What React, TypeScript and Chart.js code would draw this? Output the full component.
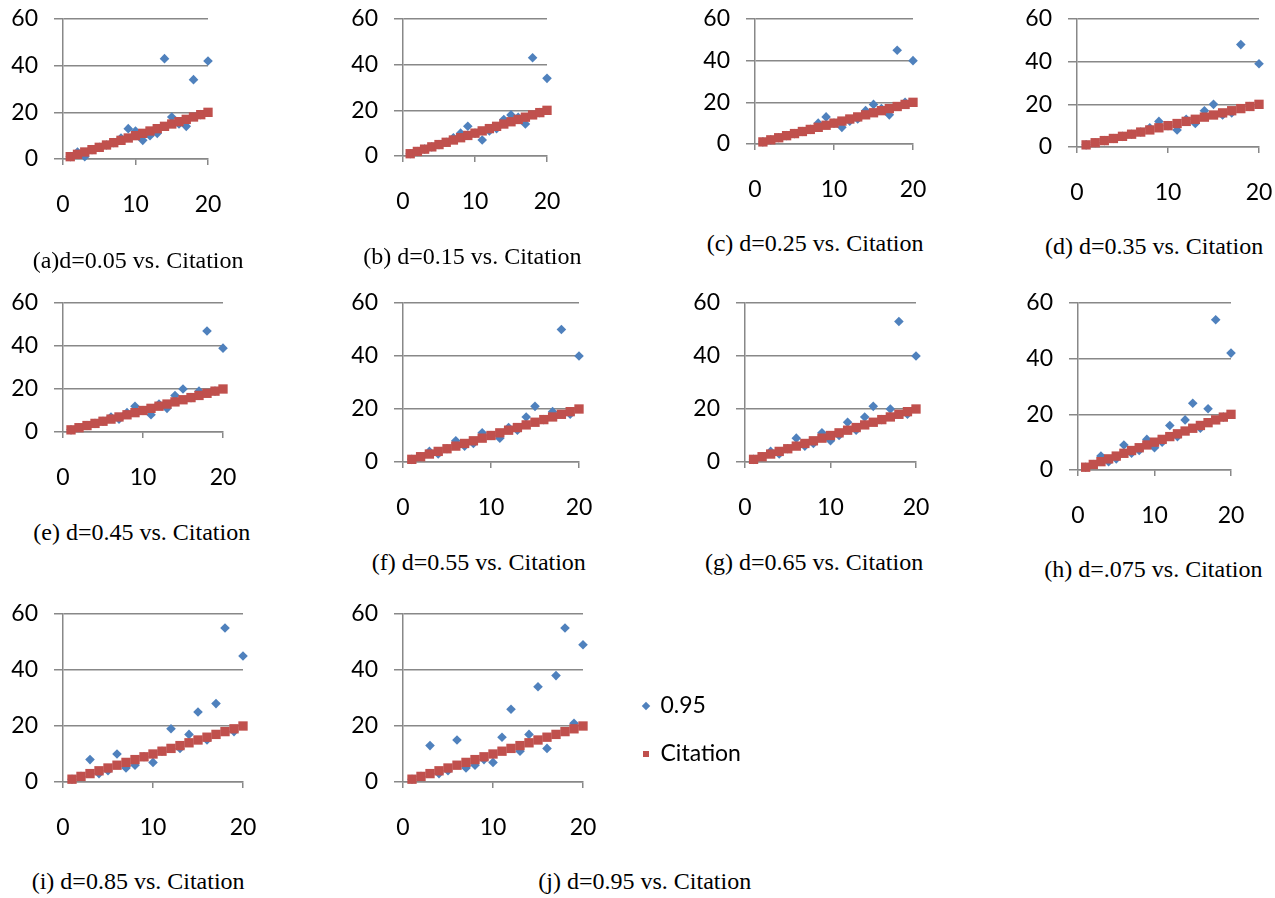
import React, { useEffect, useRef } from "react";
import { Chart, registerables } from "chart.js";

Chart.register(...registerables);

// ---------- data ----------
const xValues = [1, 2, 3, 4, 5, 6, 7, 8, 9, 10, 11, 12, 13, 14, 15, 16, 17, 18, 19, 20];
const citation = [1, 2, 3, 4, 5, 6, 7, 8, 9, 10, 11, 12, 13, 14, 15, 16, 17, 18, 19, 20];

const d005 = [1, 3, 1, 4, 5, 6, 7, 9, 13, 12, 8, 10, 11, 43, 18, 15, 14, 34, 19, 42];
const d015 = [1, 2, 3, 4, 5, 6, 8, 10, 13, 10, 7, 11, 12, 16, 18, 17, 14, 43, 19, 34];
const d025 = [1, 2, 3, 4, 5, 6, 7, 10, 13, 10, 8, 11, 12, 16, 19, 17, 14, 45, 20, 40];
const d035 = [1, 2, 3, 4, 5, 6, 7, 9, 12, 10, 8, 13, 11, 17, 20, 15, 16, 48, 19, 39];
const d045 = [1, 2, 3, 4, 5, 7, 6, 9, 12, 10, 8, 13, 11, 17, 20, 16, 19, 47, 19, 39];
const d055 = [1, 2, 4, 3, 5, 8, 6, 7, 11, 10, 9, 13, 12, 17, 21, 16, 19, 50, 18, 40];
const d065 = [1, 2, 4, 3, 5, 9, 6, 7, 11, 8, 10, 15, 12, 17, 21, 16, 20, 53, 18, 40];
const d075 = [1, 2, 5, 3, 4, 9, 6, 7, 11, 8, 10, 16, 12, 18, 24, 15, 22, 54, 19, 42];
const d085 = [1, 2, 8, 3, 4, 10, 5, 6, 9, 7, 11, 19, 12, 17, 25, 15, 28, 55, 18, 45];
const d095 = [1, 2, 13, 3, 4, 15, 5, 6, 8, 7, 16, 26, 11, 17, 34, 12, 38, 55, 21, 49];

const seriesValues = [d005, d015, d025, d035, d045, d055, d065, d075, d085, d095];
const seriesLabels = ["0.05", "0.15", "0.25", "0.35", "0.45", "0.55", "0.65", ".075", "0.85", "0.95"];
const citationLabel = "Citation";
const captions = [
  "(a)d=0.05 vs. Citation",
  "(b) d=0.15 vs. Citation",
  "(c) d=0.25 vs. Citation",
  "(d) d=0.35 vs. Citation",
  "(e) d=0.45 vs. Citation",
  "(f) d=0.55 vs. Citation",
  "(g) d=0.65 vs. Citation",
  "(h) d=.075 vs. Citation",
  "(i) d=0.85 vs. Citation",
  "(j) d=0.95 vs. Citation",
];
const xMin = 0;
const xMax = 20;
const xStep = 10;
const yMin = 0;
const yMax = 60;
const yStep = 20;

// ---------- layout (plot area left/top/width/height, caption left/baseline) ----------
const plotBoxes = [
  [63, 19, 145, 140],
  [403, 19, 144, 137],
  [755, 19, 158, 125],
  [1077, 19, 182, 128],
  [63, 303, 160, 129],
  [403, 303, 176, 159],
  [745, 303, 171, 159],
  [1078, 303, 153, 167],
  [63, 614, 180, 168],
  [403, 614, 180, 168],
];
const captionPos = [
  [32.7, 268.3],
  [363.3, 264],
  [706.7, 250.7],
  [1045, 254],
  [33.3, 540],
  [371.7, 570],
  [705, 570],
  [1044.3, 577.3],
  [31.7, 889.3],
  [538.3, 889.3],
];

const Y_AXIS_W = 62;
const PAD_TOP = 32;
const X_AXIS_H = 64;
const PAD_RIGHT = 42;
const LEGEND_GAP = 35;
const LEGEND_W = 132;

const BLUE = "#4F81BD";
const RED = "#C0504D";
const GRID = "#888888";
const TICK_FONT = { family: "Lato, 'Noto Sans', sans-serif", size: 23 };

function Panel({ index }: { index: number }) {
  const ref = useRef<HTMLCanvasElement | null>(null);
  const [left, top, pw, ph] = plotBoxes[index];
  const withLegend = index === 9;
  const canvasW = Y_AXIS_W + pw + (withLegend ? LEGEND_GAP + LEGEND_W : 0) + PAD_RIGHT;
  const canvasH = PAD_TOP + ph + X_AXIS_H;

  useEffect(() => {
    if (!ref.current) return;
    const blue = seriesValues[index].map((v, i) => ({ x: xValues[i], y: v }));
    const red = citation.map((v, i) => ({ x: xValues[i], y: v }));
    const scales: any = {
      x: {
        type: "linear",
        min: xMin,
        max: xMax,
        afterFit: (s: any) => {
          s.height = X_AXIS_H;
        },
        ticks: { stepSize: xStep, padding: 26, font: TICK_FONT, color: "#000" },
        grid: { drawOnChartArea: false, drawTicks: true, tickLength: 6, color: GRID, lineWidth: 1.5 },
        border: { display: true, color: GRID, width: 1.5 },
      },
      y: {
        type: "linear",
        min: yMin,
        max: yMax,
        afterFit: (s: any) => {
          s.width = Y_AXIS_W;
        },
        ticks: { stepSize: yStep, padding: 16, font: TICK_FONT, color: "#000" },
        grid: { color: GRID, lineWidth: 1.5, tickLength: 9 },
        border: { display: true, color: GRID, width: 1.5 },
      },
    };
    if (withLegend) {
      scales.gap = {
        type: "linear",
        position: "right",
        display: true,
        grid: { display: false },
        border: { display: false },
        ticks: { display: false },
        afterFit: (s: any) => {
          s.width = LEGEND_GAP;
        },
      };
    }
    const chart = new Chart(ref.current, {
      type: "scatter",
      data: {
        datasets: [
          {
            label: seriesLabels[index],
            data: blue,
            pointStyle: "rectRot",
            pointRadius: 4.8,
            pointHoverRadius: 4.8,
            backgroundColor: BLUE,
            borderColor: BLUE,
            borderWidth: 0,
            order: 1,
            clip: false as any,
          },
          {
            label: citationLabel,
            data: red,
            pointStyle: "rect",
            pointRadius: 6.6,
            pointHoverRadius: 6.6,
            backgroundColor: RED,
            borderColor: RED,
            borderWidth: 0,
            order: 0,
            clip: false as any,
          },
        ],
      },
      options: {
        responsive: false,
        animation: false,
        events: [],
        layout: { padding: { top: PAD_TOP, right: PAD_RIGHT, bottom: 0, left: 0 } },
        plugins: {
          tooltip: { enabled: false },
          legend: withLegend
            ? {
                display: true,
                position: "right",
                maxWidth: LEGEND_W,
                labels: {
                  usePointStyle: true,
                  boxWidth: 6,
                  boxHeight: 6,
                  padding: 25,
                  font: TICK_FONT,
                  color: "#000",
                  sort: (a: any, b: any) => a.datasetIndex - b.datasetIndex,
                },
              }
            : { display: false },
        },
        scales,
      } as any,
    });
    return () => chart.destroy();
  }, [index]);

  return (
    <canvas
      ref={ref}
      width={canvasW}
      height={canvasH}
      style={{
        position: "absolute",
        left: left - Y_AXIS_W,
        top: top - PAD_TOP,
        width: canvasW,
        height: canvasH,
      }}
    />
  );
}

export default function App() {
  return (
    <div style={{ position: "absolute", left: 0, top: 0, width: 1275, height: 898, background: "#fff", overflow: "hidden" }}>
      {plotBoxes.map((_, i) => (
        <Panel key={i} index={i} />
      ))}
      {captions.map((c, i) => (
        <div
          key={"c" + i}
          style={{
            position: "absolute",
            left: captionPos[i][0],
            top: captionPos[i][1] - 20.1,
            fontFamily: "'Liberation Serif', 'Times New Roman', serif",
            fontSize: 24,
            lineHeight: "24px",
            whiteSpace: "nowrap",
            color: "#000",
          }}
        >
          {c}
        </div>
      ))}
    </div>
  );
}
